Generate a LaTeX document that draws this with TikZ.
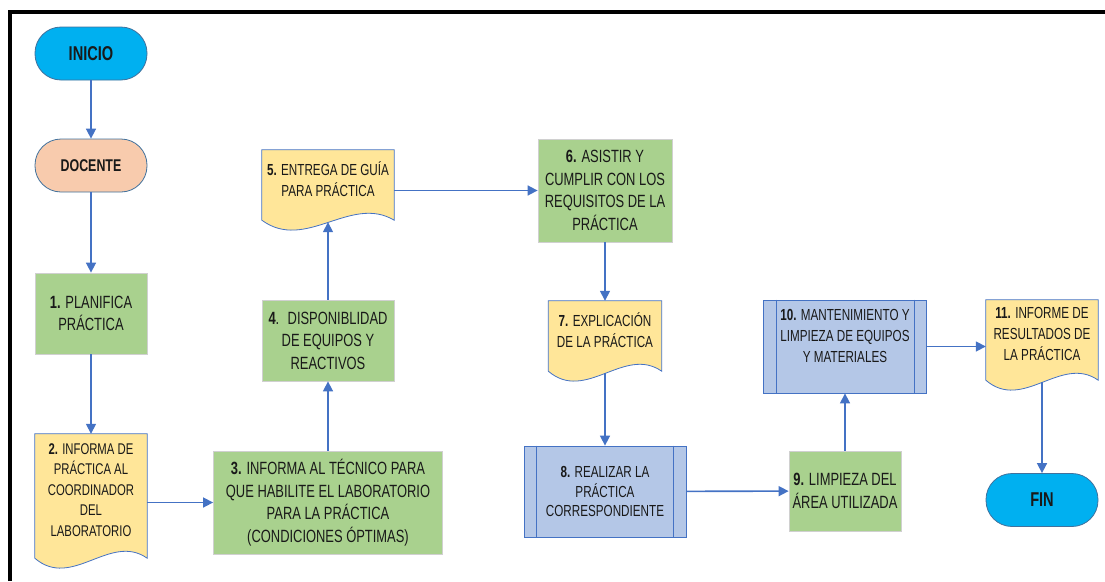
\documentclass[tikz,border=0pt]{standalone}
\usepackage{fontspec}
\setmainfont{Liberation Sans}[FakeStretch=0.73]
\usetikzlibrary{arrows.meta,calc,backgrounds}
\definecolor{termblue}{HTML}{00B0F0}
\definecolor{termline}{HTML}{41719C}
\definecolor{peach}{HTML}{F8CBAD}
\definecolor{procfill}{HTML}{A9D18E}
\definecolor{procline}{HTML}{D0D0D0}
\definecolor{docfill}{HTML}{FFE699}
\definecolor{predfill}{HTML}{B4C7E7}
\definecolor{arrowblue}{HTML}{4472C4}
\begin{document}
\begin{tikzpicture}[x=1pt,y=-1pt,
  base/.style={font=\fontsize{17.7}{22.5}\selectfont, text=black!90, align=center, inner sep=0pt},
  term/.style={base, rounded corners=26pt, minimum width=112pt, minimum height=53pt,
    draw=termline, line width=0.8pt, font=\fontsize{20}{24}\selectfont\bfseries},
  proc/.style={base, draw=procline, fill=procfill, line width=0.8pt},
  docu/.style={base, font=\fontsize{16}{21}\selectfont},
  docline/.style={draw=arrowblue, fill=docfill, line width=0.8pt},
  pred/.style={base, draw=arrowblue, fill=predfill, line width=0.8pt},
  flow/.style={draw=arrowblue, line width=1.6pt, -{Triangle[length=10pt,width=10pt]}}]
\useasboundingbox (0,0) rectangle (1105,581);
\draw[line width=4pt] (10,581) -- (10,12) -- (1105,12);

% column 1
\node[term, fill=termblue] (ini) at (91,53.5) {INICIO};
\node[term, fill=peach, font=\fontsize{17}{20}\selectfont\bfseries] (doc) at (91,165.5) {DOCENTE};
\node[proc, minimum width=112pt, minimum height=81pt] (p1) at (91,313.5) {\textbf{1.} PLANIFICA\\PRÁCTICA};
\node[docu, minimum width=112pt, minimum height=112pt, font=\fontsize{15.5}{20.5}\selectfont] (p2) at (91,490)
  {\textbf{2.} INFORMA DE\\PRÁCTICA AL\\COORDINADOR\\DEL\\LABORATORIO};

% column 2
\node[proc, minimum width=229pt, minimum height=103pt] (p3) at (328,502.5)
  {\textbf{3.} INFORMA AL TÉCNICO PARA\\QUE HABILITE EL LABORATORIO\\PARA LA PRÁCTICA\\(CONDICIONES ÓPTIMAS)};
\node[proc, minimum width=132pt, minimum height=81pt] (p4) at (328,340.5) {\textbf{4}.~ DISPONIBLIDAD\\DE EQUIPOS Y\\REACTIVOS};
\node[docu, minimum width=132pt, minimum height=58pt] (p5) at (328,179) {\textbf{5.} ENTREGA DE GUÍA\\PARA PRÁCTICA};

% column 3
\node[proc, minimum width=134pt, minimum height=103pt] (p6) at (605,190.5)
  {\textbf{6.} ASISTIR Y\\CUMPLIR CON LOS\\REQUISITOS DE LA\\PRÁCTICA};
\node[docu, minimum width=113pt, minimum height=58pt] (p7) at (605,330) {\textbf{7.} EXPLICACIÓN\\DE LA PRÁCTICA};
\node[pred, minimum width=162pt, minimum height=91pt, font=\fontsize{16}{19.8}\selectfont] (p8) at (605,491.5)
  {\textbf{8.} REALIZAR LA\\PRÁCTICA\\CORRESPONDIENTE};

% column 4 and 5
\node[proc, minimum width=112pt, minimum height=80pt] (p9) at (845,491) {\textbf{9.} LIMPIEZA DEL\\ÁREA UTILIZADA};
\node[pred, minimum width=163pt, minimum height=93pt, font=\fontsize{16}{21}\selectfont] (p10) at (845,346.5)
  {\textbf{10.} MANTENIMIENTO Y\\LIMPIEZA DE EQUIPOS\\Y MATERIALES\\\mbox{}};
\node[docu, minimum width=112pt, minimum height=68pt] (p11) at (1042,334) {\textbf{11.} INFORME DE\\RESULTADOS DE\\LA PRÁCTICA};
\node[term, fill=termblue] (fin) at (1042,500) {FIN};

% document outlines
\begin{scope}[on background layer]
\foreach \d in {p2,p5,p7,p11}
  \path[docline] let \p1=([yshift=-12pt]\d.south west), \p2=([yshift=-12pt]\d.south east), \n1={\x2-\x1} in
    (\d.north west) -- (\d.north east) -- (\p2)
    .. controls (\x1+0.67*\n1, \y1+26pt) and (\x1+0.33*\n1, \y1-32pt) .. (\p1) -- cycle;
\end{scope}
\foreach \d in {p8,p10}
  \draw[arrowblue, line width=0.8pt] ([xshift=13pt]\d.north west) -- ([xshift=13pt]\d.south west)
    ([xshift=-13pt]\d.north east) -- ([xshift=-13pt]\d.south east);

% connectors
\draw[flow] (ini) -- (doc);
\draw[flow] (doc) -- (p1);
\draw[flow] (p1) -- (p2);
\draw[flow] (p2.east |- p3) -- (p3);
\draw[flow] (p3) -- (p4);
\draw[flow] (p4) -- ([yshift=-14pt]p5.south);
\draw[flow] (p5.east |- p6) -- (p6);
\draw[flow] (p6) -- (p7);
\draw[flow] ([yshift=-14pt]p7.south) -- (p8);
\draw[flow] (p8) -- (p9);
\draw[flow] (p9) -- (p10);
\draw[flow] (p10) -- (p10 -| p11.west);
\draw[flow] ([yshift=-14pt]p11.south) -- (fin);
\end{tikzpicture}
\end{document}
